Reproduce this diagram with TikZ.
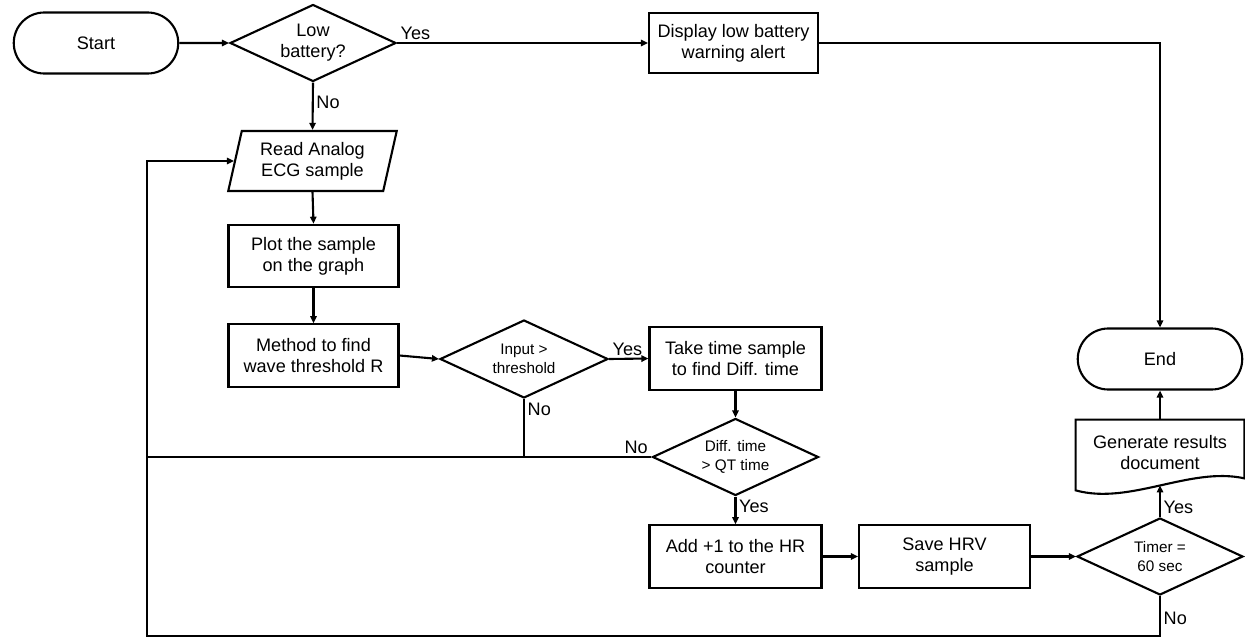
\documentclass[tikz,border=0pt]{standalone}
\usepackage{fontspec}
\setmainfont{Liberation Sans}
\usetikzlibrary{arrows.meta,calc,shapes.geometric,shapes.misc}
\newcommand{\flowwidth}{1.2pt}
\tikzset{
  flow base/.style={draw,line width=\flowwidth,align=center,inner sep=1pt,font=\fontsize{10.3}{12}\selectfont},
  flow box/.style={flow base,rectangle,minimum width=3.40cm,minimum height=1.25cm},
  flow term/.style={flow base,rounded rectangle,minimum width=3.36cm,minimum height=1.22cm},
  flow dec/.style={flow base,diamond,shape aspect=2.15,inner sep=0pt,minimum width=3.32cm,minimum height=1.54cm},
  flow io/.style={flow base,trapezium,trapezium left angle=76,trapezium right angle=104,
    trapezium stretches=true,minimum width=3.38cm,minimum height=1.2cm},
  flow doc/.style={align=center,inner sep=1pt,font=\fontsize{10.3}{12}\selectfont,
    minimum width=3.36cm,minimum height=1.3cm},
  small text/.style={font=\fontsize{8.7}{11}\selectfont},
  flow line/.style={line width=\flowwidth,-{Triangle[length=4pt,width=3.6pt]}},
  flow link/.style={line width=\flowwidth},
  flow label/.style={font=\fontsize{10.3}{11}\selectfont,inner sep=1.5pt}
}

\begin{document}
\begin{tikzpicture}[line cap=butt,line join=miter]
  \useasboundingbox (0,0) rectangle (24.9,-12.76);

  % Main column.
  \node[flow term] (start)   at ( 1.92,-0.86) {Start};
  \node[flow dec]  (lowbat)  at ( 6.26,-0.86) {Low\\battery?};
  \node[flow box,minimum width=3.38cm,minimum height=1.2cm] (display) at (14.67,-0.86) {Display low battery\\warning alert};
  \node[flow io]   (read)    at ( 6.25,-3.22) {Read Analog\\ECG sample};
  \node[flow box]  (plot)    at ( 6.27,-5.12) {Plot the sample\\on the graph};
  \node[flow box]  (method)  at ( 6.27,-7.11) {Method to find\\wave threshold R};

  % Threshold and QT checks.
  \node[flow dec,small text,minimum width=3.36cm,minimum height=1.56cm] (input) at (10.48,-7.18) {Input >\\threshold};
  \node[flow box,minimum width=3.44cm] (taketime) at (14.71,-7.17) {Take time sample\\to find Diff. time};
  \node[flow dec,small text] (diff)   at (14.71,-9.14) {Diff. time\\> QT time};
  \node[flow box,minimum width=3.44cm] (addone)   at (14.71,-11.13) {Add +1 to the HR\\counter};
  \node[flow box,minimum width=3.42cm] (save)     at (18.89,-11.13) {Save HRV\\sample};

  % Right column.
  \node[flow dec,small text] (timer) at (23.20,-11.13) {Timer =\\60 sec};
  \node[flow doc]  (doc)     at (23.20,-9.05) {Generate results\\document};
  \node[flow term] (end)     at (23.20,-7.18) {End};
  \draw[line width=\flowwidth] (doc.north west) -- (doc.north east)
    -- ($(doc.south east)+(0,0.14)$) .. controls +(-1.08,0.24) and +(1.08,-0.30) .. ($(doc.south west)+(0,-0.10)$)
    -- cycle;

  % Loop back to the reading step.
  \coordinate (loopbr) at (23.20,-12.72);
  \coordinate (loopbl) at ( 2.94,-12.72);

  \draw[flow line] (start) -- (lowbat);
  \draw[flow line] (lowbat.east) -- node[flow label,above right,pos=0]{Yes} (display.west);
  \draw[flow line] (display.east) -| (end.north);
  \draw[flow line] (lowbat.south) -- node[flow label,right,pos=0.42]{No} (read.north);
  \draw[flow line] (read.south) -- (plot.north);
  \draw[flow line] (plot.south) -- (method.north);
  \draw[flow line] (method.east) -- (input.west);
  \draw[flow line] (input.east) -- node[flow label,above right,pos=0]{Yes} (taketime.west);
  \draw[flow line] (taketime.south) -- (diff.north);
  \draw[flow link] (diff.west) -- node[flow label,above left,pos=0]{No} (diff.west -| loopbl);
  \draw[flow link] (input.south) -- node[flow label,below right,pos=0]{No} (input.south |- diff.west);
  \draw[flow line] (diff.south) -- node[flow label,below right,pos=0]{Yes} (addone.north);
  \draw[flow line] (addone) -- (save);
  \draw[flow line] (save) -- (timer);
  \draw[flow line] (timer.north) -- node[flow label,above right,pos=0]{Yes} (doc.south);
  \draw[flow line] (doc.north) -- (end.south);
  \draw[flow line] (timer.south) -- node[flow label,right,pos=0.55]{No} (loopbr)
        -- (loopbl) -- (loopbl |- read.west) -- (read.west);
\end{tikzpicture}
\end{document}
